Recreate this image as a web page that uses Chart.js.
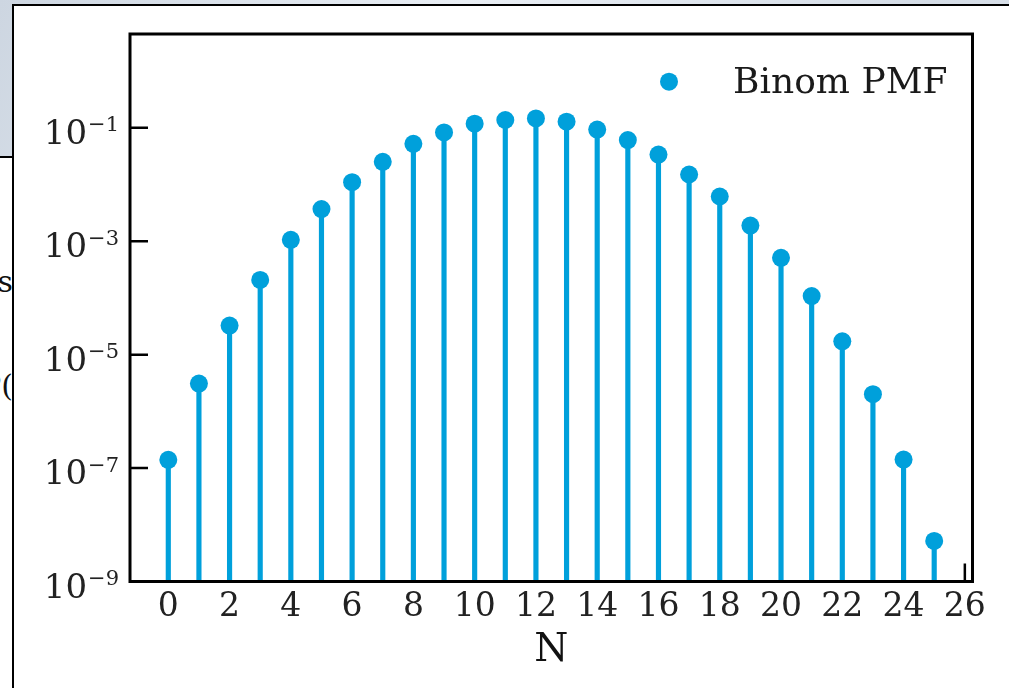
<!DOCTYPE html>
<html>
<head>
<meta charset="utf-8">
<script src="https://cdn.jsdelivr.net/npm/chart.js@4.4.1/dist/chart.umd.min.js"></script>
<style>
  html, body { margin: 0; padding: 0; }
  body {
    width: 1009px; height: 688px; position: relative; overflow: hidden;
    background: linear-gradient(115deg, #cdd6e1 0%, #e9eef4 35%, #d4dce6 70%, #e4e9f0 100%);
  }
  #slide {
    position: absolute; left: 0; top: 156px; width: 14px; height: 540px;
    background: #fff; border-top: 2px solid #000; overflow: hidden;
    font-family: 'DejaVu Serif', serif; font-size: 30px; color: #111;
  }
  #slide span { position: absolute; right: 1px; white-space: nowrap; }
  #frame {
    position: absolute; left: 12px; top: 4px; right: -10px; bottom: -10px;
    background: #fff; border-top: 2px solid #000; border-left: 2px solid #000;
  }
  canvas { position: absolute; left: 0; top: 0; }
</style>
</head>
<body>
<div id="slide"><span style="top:106px">is</span><span style="top:210px">P(</span></div>
<div id="frame"></div>
<canvas id="pmf_canvas" width="1009" height="688"></canvas>
<script>
// values
const nValues = [0, 1, 2, 3, 4, 5, 6, 7, 8, 9, 10, 11, 12, 13, 14, 15, 16, 17, 18, 19, 20, 21, 22, 23, 24, 25];
const pmfValues = [1.40e-7, 3.09e-6, 3.26e-5, 2.08e-4, 1.06e-3, 3.68e-3, 1.10e-2, 2.51e-2, 5.22e-2, 8.26e-2,
  0.118, 0.137, 0.146, 0.128, 0.093, 0.0607, 0.0337, 0.0150, 6.14e-3, 1.89e-3,
  5.09e-4, 1.08e-4, 1.72e-5, 2.01e-6, 1.41e-7, 5.20e-9];
const xTicks = [0, 2, 4, 6, 8, 10, 12, 14, 16, 18, 20, 22, 24, 26];
const yTicks = [1e-9, 1e-7, 1e-5, 1e-3, 1e-1];
const yTickExponents = ['−9', '−7', '−5', '−3', '−1'];
const legendLabel = 'Binom PMF';

const blue = '#00a0db';
const serif = 'DejaVu Serif';

const points = nValues.map((n, i) => ({ x: n, y: pmfValues[i] }));

// inward tick marks + box around the plot
const axisFrame = {
  id: 'axisFrame',
  beforeDatasetsDraw(chart) {
    const { ctx, chartArea: a, scales: { x, y } } = chart;
    ctx.save();
    ctx.strokeStyle = '#000';
    ctx.lineWidth = 2.5;
    ctx.beginPath();
    xTicks.forEach(v => {
      const px = x.getPixelForValue(v);
      ctx.moveTo(px, a.bottom);
      ctx.lineTo(px, a.bottom - 18);
    });
    yTicks.forEach(v => {
      const py = y.getPixelForValue(v);
      ctx.moveTo(a.left, py);
      ctx.lineTo(a.left + 18, py);
    });
    ctx.stroke();
    ctx.restore();
  },
  afterDatasetsDraw(chart) {
    const { ctx, chartArea: a } = chart;
    ctx.save();
    ctx.strokeStyle = '#000';
    ctx.lineWidth = 3;
    ctx.strokeRect(a.left, a.top, a.right - a.left, a.bottom - a.top);
    ctx.restore();
  }
};

// 10^n labels with a real superscript, placed on the y scale's ticks
const powerLabels = {
  id: 'powerLabels',
  afterDraw(chart) {
    const { ctx, chartArea: a, scales: { y } } = chart;
    ctx.save();
    ctx.fillStyle = '#222';
    ctx.textBaseline = 'alphabetic';
    ctx.textAlign = 'left';
    yTicks.forEach((v, i) => {
      const py = y.getPixelForValue(v);
      ctx.font = '21px "' + serif + '"';
      const supW = ctx.measureText(yTickExponents[i]).width;
      ctx.font = '34px "' + serif + '"';
      const baseW = ctx.measureText('10').width;
      const supX = a.left - 11 - supW;
      ctx.fillText('10', supX - 1 - baseW, py + 16);
      ctx.font = '21px "' + serif + '"';
      ctx.fillText(yTickExponents[i], supX, py + 3.5);
    });
    ctx.restore();
  }
};

// legend in the upper right of the plot, like matplotlib's
const innerLegend = {
  id: 'innerLegend',
  afterDraw(chart) {
    const { ctx, chartArea: a } = chart;
    ctx.save();
    ctx.fillStyle = blue;
    ctx.beginPath();
    ctx.arc(a.right - 303.5, a.top + 47.7, 9, 0, Math.PI * 2);
    ctx.fill();
    ctx.fillStyle = '#1a1a1a';
    ctx.font = '36px "' + serif + '"';
    ctx.textBaseline = 'alphabetic';
    ctx.textAlign = 'left';
    ctx.fillText(legendLabel, a.right - 239.5, a.top + 58.7);
    ctx.restore();
  }
};

const ctx = document.getElementById('pmf_canvas').getContext('2d');

const config = {
  type: 'bar',
  data: {
    datasets: [{
      type: 'scatter',
      label: legendLabel,
      data: points,
      backgroundColor: blue,
      borderWidth: 0,
      pointRadius: 9,
      pointHoverRadius: 9,
      order: 0
    }, {
      type: 'bar',
      label: 'stems',
      data: points,
      backgroundColor: blue,
      borderWidth: 0,
      barThickness: 4.5,
      order: 1
    }]
  },
  options: {
    responsive: false,
    animation: false,
    devicePixelRatio: 1,
    layout: {
      padding: { top: 34, right: 36.5, left: 0, bottom: 0 }
    },
    scales: {
      x: {
        type: 'linear',
        min: -1.25,
        max: 26.25,
        offset: false,
        afterBuildTicks: s => { s.ticks = xTicks.map(v => ({ value: v })); },
        afterFit: s => { s.height = 106.5; },
        grid: { display: false },
        border: { display: false },
        ticks: {
          autoSkip: false,
          maxRotation: 0,
          padding: -2,
          color: '#222',
          font: { family: serif, size: 33 }
        },
        title: {
          display: true,
          text: 'N',
          color: '#111',
          font: { family: serif, size: 39 },
          padding: { top: 0, bottom: 14 }
        }
      },
      y: {
        type: 'logarithmic',
        min: 1e-9,
        max: 4.5,
        afterBuildTicks: s => { s.ticks = yTicks.map(v => ({ value: v })); },
        afterFit: s => { s.width = 130; },
        grid: { display: false },
        border: { display: false },
        ticks: { display: false }
      }
    },
    plugins: {
      legend: { display: false },
      tooltip: { enabled: false }
    }
  },
  plugins: [axisFrame, powerLabels, innerLegend]
};

const pmfChart = new Chart(ctx, config);
</script>
</body>
</html>
